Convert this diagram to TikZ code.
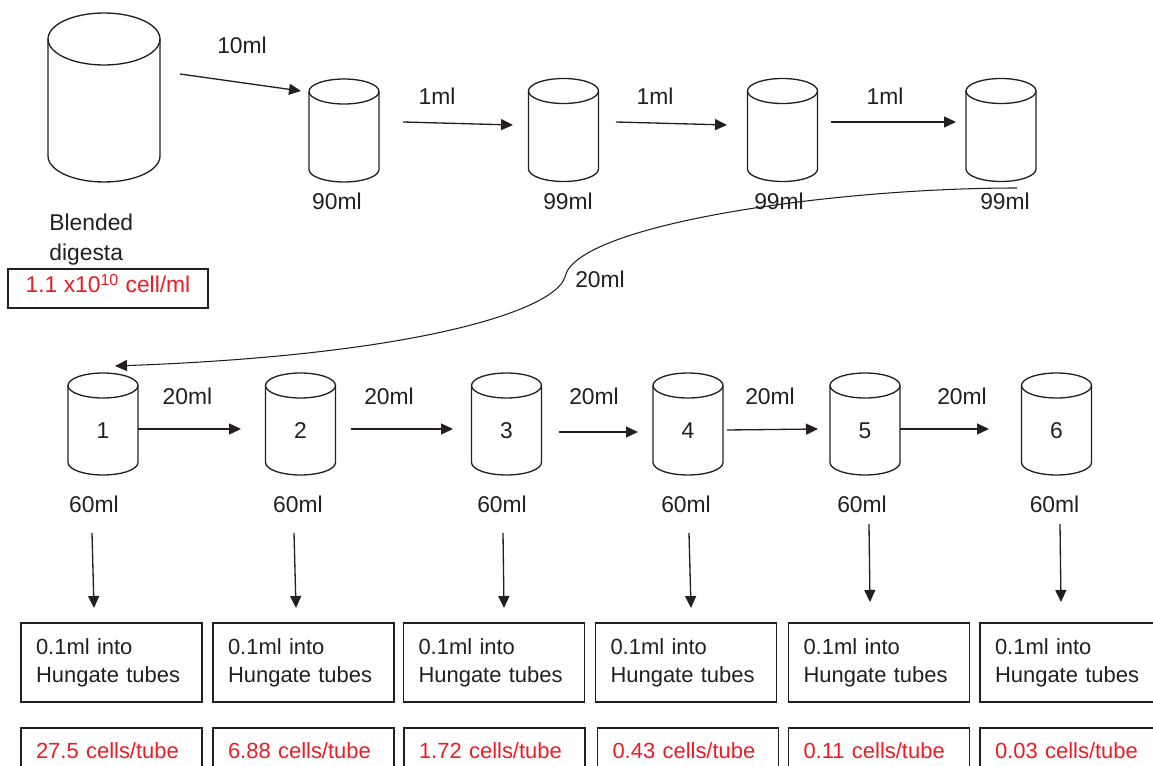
\documentclass[tikz,border=0pt]{standalone}
\usepackage{fontspec}
\setmainfont{Liberation Sans}
\usetikzlibrary{arrows.meta,positioning}
\definecolor{ink}{RGB}{35,31,32}
\definecolor{cellred}{RGB}{237,28,36}
\tikzset{
  tank/.style={minimum width=1.4cm, minimum height=2.06cm, inner sep=0pt, outer sep=0pt,
    text=ink, text height=0.57cm, text depth=0pt, font=\fontsize{13}{16}\selectfont},
  tankline/.style={draw=ink, line width=0.75pt},
  lbl/.style={font=\fontsize{13}{17}\selectfont, text=ink, inner sep=0pt, anchor=base},
  flow/.style={draw=ink, line width=0.75pt, -{Triangle[length=0.24cm,width=0.22cm]}},
  platebox/.style={draw=ink, line width=0.75pt, outer sep=0pt, minimum width=3.62cm,
    minimum height=1.58cm, text width=3.02cm, inner xsep=0.3cm, align=left, text=ink,
    font=\fontsize{12.5}{16}\selectfont},
  countbox/.style={draw=ink, line width=0.75pt, outer sep=0pt, minimum width=3.62cm,
    inner xsep=0.3cm, inner ysep=0pt, text width=3.02cm, align=left, text height=0.6cm,
    text depth=0.4cm, text=cellred, font=\fontsize{12.5}{16}\selectfont},
}
\begin{document}
\begin{tikzpicture}[x=0.02cm,y=-0.02cm]
\useasboundingbox (0,0) rectangle (1153,766);
\clip (0,0) rectangle (1153,766);
%%% stock and the 1:10, 1:100 dilutions
\node[tank, minimum width=2.24cm, minimum height=3.38cm] (stock) at (104,97.5) {};
\node[tank] (d1) at (344,130.5) {};
\node[tank] (d2) at (563.5,130) {};
\node[tank] (d3) at (782.5,130) {};
\node[tank] (d4) at (1001,130) {};
\draw[tankline] ([yshift=-0.52cm]stock.north) ellipse [x radius=56, y radius=26];
\draw[tankline] ([yshift=-0.52cm]stock.north west) -- ([yshift=0.52cm]stock.south west)
  arc [start angle=180, end angle=0, x radius=56, y radius=26]
  -- ([yshift=-0.52cm]stock.north east);
\node[lbl] (s0) at (242,54) {10ml};
\node[lbl] (s1) at (437,105) {1ml};
\node[lbl] (s2) at (655,105) {1ml};
\node[lbl] (s3) at (885,105) {1ml};
\node[lbl] (w1) at (337,210) {90ml};
\node[lbl] (w2) at (568,210) {99ml};
\node[lbl] (w3) at (779,210) {99ml};
\node[lbl] (w4) at (1005,210) {99ml};
\node[lbl, anchor=north west, align=left] (name) at (49,213.5) {Blended\\digesta};
\node[draw=ink, line width=0.75pt, minimum width=4cm, inner sep=0pt, text height=0.48cm,
  text depth=0.3cm, text=cellred, font=\fontsize{13}{16}\selectfont] (stockcount)
  at (108,288.5) {1.1 x10\textsuperscript{10} cell/ml};
%%% transfers along the top row
\draw[flow] ([shift={(20,-23.5)}]stock.east) -- ([shift={(-8,-39.5)}]d1.west);
\draw[flow] ([shift={(24,-8.5)}]d1.east) -- ([shift={(-15.5,-5)}]d2.west);
\draw[flow] ([shift={(17.5,-8)}]d2.east) -- ([shift={(-20.5,-5)}]d3.west);
\draw[flow] ([shift={(13.5,-8)}]d3.east) -- ([shift={(-10,-8)}]d4.west);
%%% the long transfer down to tube 1
\coordinate (bend) at (1017,188);
\coordinate (drop) at (115,366);
\draw[flow, line width=0.6pt] (bend) .. controls (830,188) and (575,225) .. (565,277)
  .. controls (555,310) and (420,355) .. (drop);
\node[lbl] (s4) at (600,288) {20ml};
%%% the six 1:4 tubes
\foreach \i/\x in {1/103,2/300.5,3/506.5,4/688,5/865,6/1056.5}
  \node[tank, minimum height=2.04cm] (c\i) at (\x,424) {\i};
%%% outline of every small tube
\foreach \t in {d1,d2,d3,d4,c1,c2,c3,c4,c5,c6} {
  \draw[tankline] ([yshift=-0.25cm]\t.north) ellipse [x radius=35, y radius=12.5];
  \draw[tankline] ([yshift=-0.25cm]\t.north west) -- ([yshift=0.25cm]\t.south west)
    arc [start angle=180, end angle=0, x radius=35, y radius=12.5]
    -- ([yshift=-0.25cm]\t.north east);
}
\foreach \i/\x in {1/187.5,2/389,3/594,4/770,5/962}
  \node[lbl] (tr\i) at (\x,405) {20ml};
\foreach \i/\x in {1/94,2/298,3/502,4/686,5/862,6/1054.5}
  \node[lbl] (vol\i) at (\x,513) {60ml};
\draw[flow] ([shift={(0,5)}]c1.east) -- ([shift={(-24.5,5)}]c2.west);
\draw[flow] ([shift={(15.5,5)}]c2.east) -- ([shift={(-18.5,5)}]c3.west);
\draw[flow] ([shift={(17.5,8)}]c3.east) -- ([shift={(-15,8)}]c4.west);
\draw[flow] ([shift={(4,6)}]c4.east) -- ([shift={(-12,5)}]c5.west);
\draw[flow] ([shift={(0,5)}]c5.east) -- ([shift={(-32.5,5)}]c6.west);
%%% plating and expected counts
\foreach \i/\x in {1/111.5,2/303.5,3/494,4/686,5/879,6/1070.5}
  \node[platebox] (h\i) at (\x,662.5) {0.1ml into\\Hungate tubes};
\foreach \i/\x/\n in {1/111.5/27.5,2/303.5/6.88,3/494.5/1.72,4/688/0.43,5/879/0.11,6/1070.5/0.03}
  \node[countbox] (n\i) at (\x,753) {\n\ cells/tube};
\draw[flow] ([shift={(-2,20)}]vol1.base) -- ([shift={(-17.5,-15)}]h1.north);
\draw[flow] ([shift={(-4,20)}]vol2.base) -- ([shift={(-7.5,-15)}]h2.north);
\draw[flow] ([shift={(1,20)}]vol3.base) -- ([shift={(10,-15)}]h3.north);
\draw[flow] ([shift={(3,20)}]vol4.base) -- ([shift={(5,-15)}]h4.north);
\draw[flow] ([shift={(7,11)}]vol5.base) -- ([shift={(-9,-21)}]h5.north);
\draw[flow] ([shift={(5.5,11)}]vol6.base) -- ([shift={(-9.5,-21)}]h6.north);
\end{tikzpicture}
\end{document}
